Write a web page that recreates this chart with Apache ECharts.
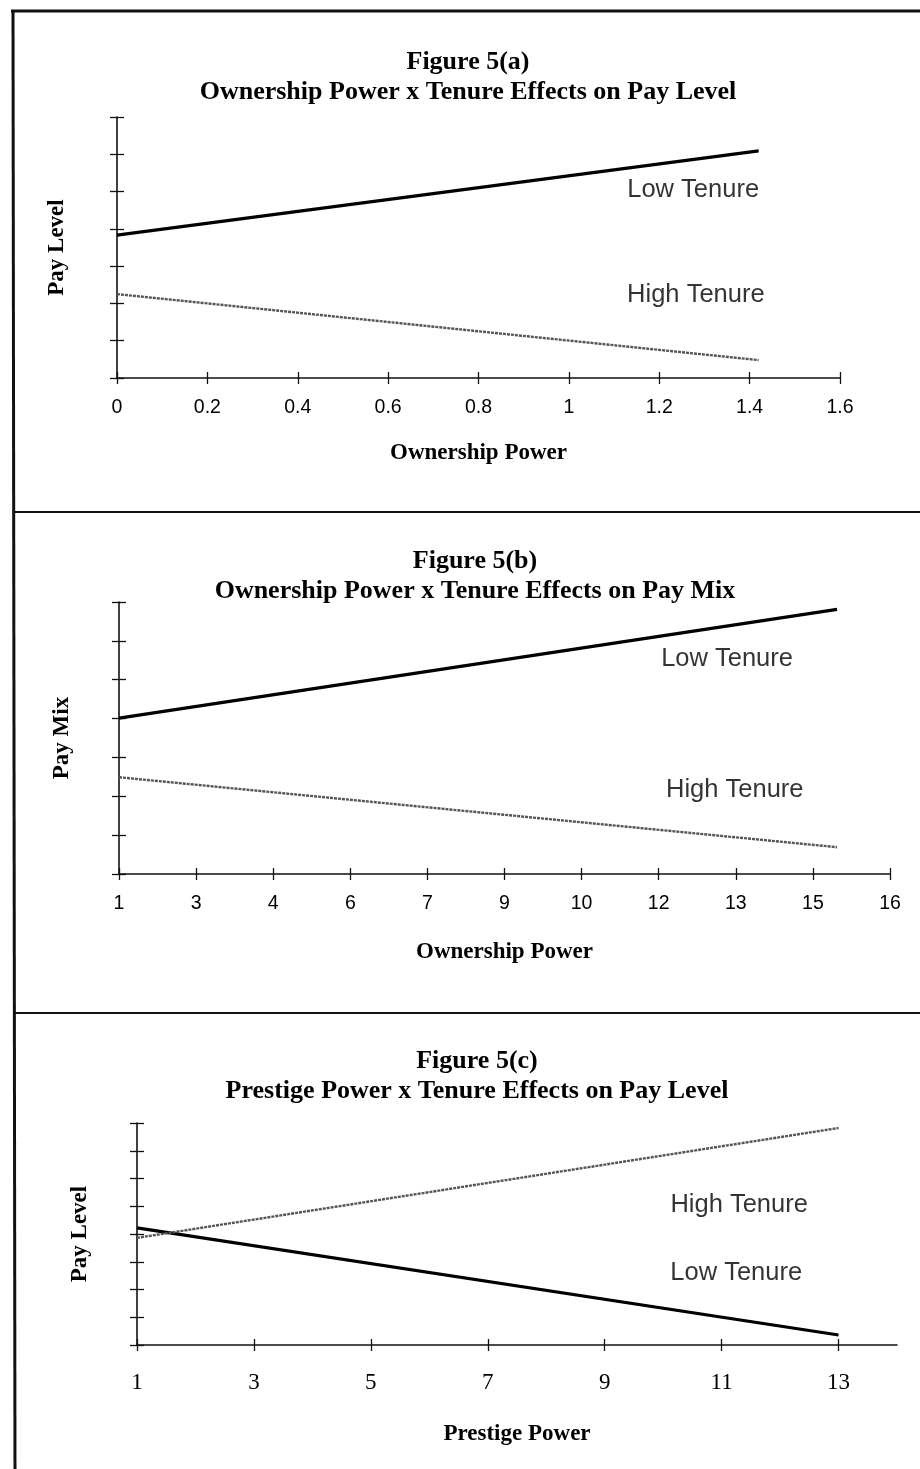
<!DOCTYPE html>
<html><head><meta charset="utf-8">
<script src="https://cdn.jsdelivr.net/npm/echarts@6.0.0/dist/echarts.min.js"></script>
<style>html,body{margin:0;padding:0;background:#fff}#c{width:920px;height:1469px}</style>
</head><body><div id="c"></div>
<script>
// ---------- Figure 5(a) ----------
const titleA = ['Figure 5(a)', 'Ownership Power x Tenure Effects on Pay Level'];
const xNameA = 'Ownership Power';
const yNameA = 'Pay Level';
const xA = [0, 1.42];
const lowTenureA = [3.83, 6.09];
const highTenureA = [2.25, 0.48];
const xTickValsA = [0, 0.2, 0.4, 0.6, 0.8, 1, 1.2, 1.4, 1.6];
const xTickLabelsA = ['0', '0.2', '0.4', '0.6', '0.8', '1', '1.2', '1.4', '1.6'];
const lowLabelA = [1.275, 5.04];
const highLabelA = [1.281, 2.23];

// ---------- Figure 5(b) ----------
const titleB = ['Figure 5(b)', 'Ownership Power x Tenure Effects on Pay Mix'];
const xNameB = 'Ownership Power';
const yNameB = 'Pay Mix';
const xB = [1, 14.97];
const lowTenureB = [4.01, 6.81];
const highTenureB = [2.49, 0.69];
const xTickValsB = [1, 2.5, 4, 5.5, 7, 8.5, 10, 11.5, 13, 14.5, 16];
const xTickLabelsB = ['1', '3', '4', '6', '7', '9', '10', '12', '13', '15', '16'];
const lowLabelB = [12.83, 5.53];
const highLabelB = [12.98, 2.16];

// ---------- Figure 5(c) ----------
const titleC = ['Figure 5(c)', 'Prestige Power x Tenure Effects on Pay Level'];
const xNameC = 'Prestige Power';
const yNameC = 'Pay Level';
const xC = [1, 13];
const lowTenureC = [4.22, 0.36];
const highTenureC = [3.86, 7.82];
const xTickValsC = [1, 3, 5, 7, 9, 11, 13];
const xTickLabelsC = ['1', '3', '5', '7', '9', '11', '13'];
const lowLabelC = [11.25, 2.59];
const highLabelC = [11.30, 5.05];

const seriesNames = ['Low Tenure', 'High Tenure'];

const SERIF = '"Liberation Serif", "Times New Roman", serif';
const SANS = '"Liberation Sans", Arial, sans-serif';

const panels = [
  { title: titleA, xName: xNameA, yName: yNameA, xs: xA, low: lowTenureA, high: highTenureA,
    tickVals: xTickValsA, tickLabels: xTickLabelsA, lowLabel: lowLabelA, highLabel: highLabelA,
    xMin: 0, xMax: 1.6, yMax: 7,
    grid: { left: 117, top: 117, width: 723, height: 261 },
    titleX: 468, titleTop: 47, tickFont: SANS, tickSize: 19.5, labelMargin: 20,
    xNameGap: 64, yNameGap: 48 },
  { title: titleB, xName: xNameB, yName: yNameB, xs: xB, low: lowTenureB, high: highTenureB,
    tickVals: xTickValsB, tickLabels: xTickLabelsB, lowLabel: lowLabelB, highLabel: highLabelB,
    xMin: 1, xMax: 16, yMax: 7,
    grid: { left: 119, top: 602, width: 771, height: 272 },
    titleX: 475, titleTop: 546, tickFont: SANS, tickSize: 19.5, labelMargin: 20,
    xNameGap: 67, yNameGap: 45 },
  { title: titleC, xName: xNameC, yName: yNameC, xs: xC, low: lowTenureC, high: highTenureC,
    tickVals: xTickValsC, tickLabels: xTickLabelsC, lowLabel: lowLabelC, highLabel: highLabelC,
    xMin: 1, xMax: 14, yMax: 8,
    grid: { left: 137, top: 1123, width: 760, height: 222 },
    titleX: 477, titleTop: 1046, tickFont: SERIF, tickSize: 23, labelMargin: 26,
    xNameGap: 78, yNameGap: 45 }
];

const option = { animation: false, backgroundColor: '#fff', title: [], grid: [], xAxis: [], yAxis: [], series: [], graphic: [] };

const axisColor = '#111';
panels.forEach((p, i) => {
  option.title.push({
    text: p.title.join('\n'), left: p.titleX, top: p.titleTop, textAlign: 'center', padding: 0,
    textStyle: { fontFamily: SERIF, fontWeight: 'bold', fontSize: 26, lineHeight: 30, color: '#000' }
  });
  option.grid.push(Object.assign({ containLabel: false }, p.grid));
  const labelFor = (v) => {
    let best = 0;
    p.tickVals.forEach((t, k) => { if (Math.abs(t - v) < Math.abs(p.tickVals[best] - v)) best = k; });
    return p.tickLabels[best];
  };
  option.xAxis.push({
    gridIndex: i, type: 'value', min: p.xMin, max: p.xMax, position: 'bottom',
    axisLine: { onZero: false, lineStyle: { color: axisColor, width: 1.6 } },
    axisTick: { show: true, inside: false, length: 6, customValues: p.tickVals, lineStyle: { color: axisColor, width: 1.3 } },
    axisLabel: { customValues: p.tickVals, formatter: labelFor, color: '#000', fontFamily: p.tickFont, fontSize: p.tickSize, margin: p.labelMargin },
    splitLine: { show: false },
    name: p.xName, nameLocation: 'middle', nameGap: p.xNameGap,
    nameTextStyle: { fontFamily: SERIF, fontWeight: 'bold', fontSize: 23, color: '#000' }
  });
  option.xAxis.push({
    gridIndex: i, type: 'value', min: p.xMin, max: p.xMax, position: 'bottom',
    axisLine: { show: false, onZero: false },
    axisTick: { show: true, inside: true, length: 6, customValues: p.tickVals, lineStyle: { color: axisColor, width: 1.3 } },
    axisLabel: { show: false }, splitLine: { show: false }
  });
  option.yAxis.push({
    gridIndex: i, type: 'value', min: 0, max: p.yMax, interval: 1, position: 'left',
    axisLine: { show: true, onZero: false, lineStyle: { color: axisColor, width: 1.6 } },
    axisTick: { show: true, inside: false, length: 7, lineStyle: { color: axisColor, width: 1.3 } },
    axisLabel: { show: false }, splitLine: { show: false },
    name: p.yName, nameLocation: 'middle', nameGap: p.yNameGap, nameRotate: 90,
    nameTextStyle: { fontFamily: SERIF, fontWeight: 'bold', fontSize: 23, color: '#000' }
  });
  option.yAxis.push({
    gridIndex: i, type: 'value', min: 0, max: p.yMax, interval: 1, position: 'left',
    axisLine: { show: false, onZero: false },
    axisTick: { show: true, inside: true, length: 7, lineStyle: { color: axisColor, width: 1.3 } },
    axisLabel: { show: false }, splitLine: { show: false }
  });
  const xi = 2 * i, yi = 2 * i;
  option.series.push({
    name: seriesNames[0], type: 'line', xAxisIndex: xi, yAxisIndex: yi, showSymbol: false, silent: true,
    data: p.xs.map((x, k) => [x, p.low[k]]),
    lineStyle: { color: '#000', width: 3.2 }
  });
  option.series.push({
    name: seriesNames[1], type: 'line', xAxisIndex: xi, yAxisIndex: yi, showSymbol: false, silent: true,
    data: p.xs.map((x, k) => [x, p.high[k]]),
    lineStyle: { color: '#555', width: 2.4, type: [3, 1] }
  });
  option.series.push({
    type: 'scatter', xAxisIndex: xi, yAxisIndex: yi, silent: true, symbolSize: 1,
    itemStyle: { color: 'rgba(0,0,0,0)' },
    data: [
      { value: p.lowLabel, name: seriesNames[0] },
      { value: p.highLabel, name: seriesNames[1] }
    ],
    label: { show: true, position: 'inside', formatter: (d) => d.name, fontFamily: SANS, fontSize: 25.5, color: '#000' }
  });
});

const lineStyle = (w) => ({ stroke: '#111', lineWidth: w });
option.graphic = [
  { type: 'line', shape: { x1: 11, y1: 11, x2: 920, y2: 11 }, style: lineStyle(3), silent: true },
  { type: 'line', shape: { x1: 13, y1: 10, x2: 15, y2: 1469 }, style: lineStyle(3), silent: true },
  { type: 'line', shape: { x1: 14, y1: 512, x2: 920, y2: 512 }, style: lineStyle(1.8), silent: true },
  { type: 'line', shape: { x1: 15, y1: 1013, x2: 920, y2: 1013 }, style: lineStyle(1.8), silent: true }
];

const chart = echarts.init(document.getElementById('c'), null, { renderer: 'canvas' });
chart.setOption(option);
</script>
</body></html>
